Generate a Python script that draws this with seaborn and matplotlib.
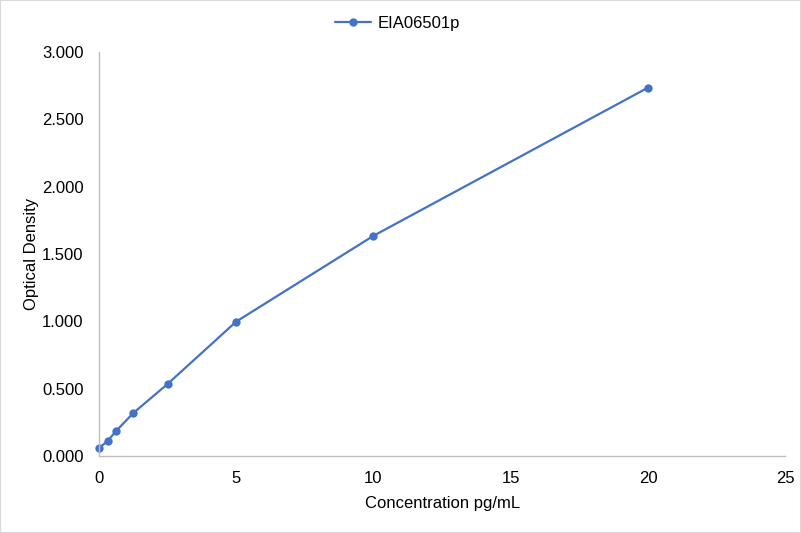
import matplotlib
matplotlib.use("Agg")
import matplotlib.pyplot as plt
import seaborn as sns
import pandas as pd
from matplotlib.patches import Rectangle

concentration = [0, 0.3125, 0.625, 1.25, 2.5, 5, 10, 20]
optical_density = [0.059, 0.111, 0.186, 0.319, 0.535, 0.998, 1.635, 2.735]
series_name = "EIA06501p"
x_ticks = [0, 5, 10, 15, 20, 25]
y_ticks = [0, 0.5, 1.0, 1.5, 2.0, 2.5, 3.0]

sns.set_style("white")
plt.rcParams['font.family'] = ['Liberation Sans', 'DejaVu Sans']

df = pd.DataFrame({"conc": concentration, "od": optical_density, "name": series_name})

fig = plt.figure(figsize=(8.01, 5.33), dpi=100)
ax = fig.add_axes([0.1236, 0.1445, 0.8567, 0.758])
color = "#4472C4"
sns.lineplot(data=df, x="conc", y="od", hue="name", palette=[color], marker="o",
             markersize=6, markeredgewidth=0, linewidth=1.6, ax=ax)
for line in ax.lines:
    line.set_clip_on(False)

ax.set_xlim(0, 25)
ax.set_ylim(0, 3.0)
ax.set_xticks(x_ticks)
ax.set_yticks(y_ticks)
ax.set_yticklabels([f"{v:.3f}" for v in y_ticks])
ax.tick_params(axis="both", labelsize=12, colors="black", length=0)
ax.tick_params(axis="x", pad=11)
ax.tick_params(axis="y", pad=11)
ax.set_xlabel("Concentration pg/mL", fontsize=12, color="black", labelpad=7)
ax.set_ylabel("Optical Density", fontsize=12, color="black", labelpad=2)

for side in ["top", "right"]:
    ax.spines[side].set_visible(False)
for side in ["left", "bottom"]:
    ax.spines[side].set_color("#BFBFBF")
    ax.spines[side].set_linewidth(1)

leg = ax.legend(loc="lower center", bbox_to_anchor=(0.435, 1.015), frameon=False,
                fontsize=12, handlelength=2.2, handletextpad=0.4)
for t in leg.get_texts():
    t.set_color("black")

fig.patches.append(Rectangle((0, 0), 1, 1, transform=fig.transFigure, fill=False,
                             edgecolor="#D9D9D9", linewidth=1.5))

fig.savefig("out.png", dpi=100)
